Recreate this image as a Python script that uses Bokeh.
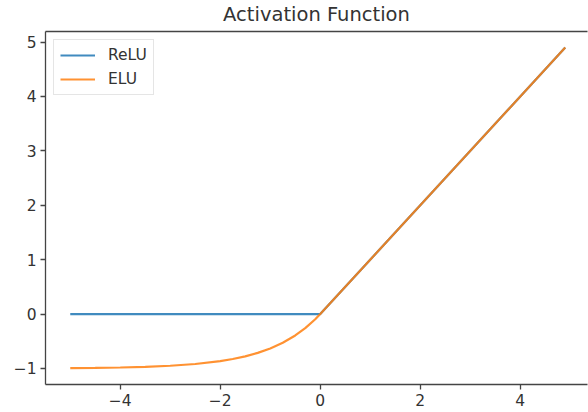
from bokeh.plotting import figure
from bokeh.models import LinearAxis, Range1d, FixedTicker, Legend, LegendItem
from bokeh.embed import file_html
from bokeh.resources import INLINE

# Data
relu_x = [-5.0, 0.0, 4.9]
relu_y = [0.0, 0.0, 4.9]

elu_x = [-5.0, -4.5, -4.0, -3.5, -3.0, -2.5, -2.0, -1.75, -1.5, -1.25, -1.0,
         -0.75, -0.5, -0.3, -0.1, 0.0, 4.9]
elu_y = [-0.993, -0.989, -0.982, -0.970, -0.950, -0.918, -0.865, -0.826,
         -0.777, -0.713, -0.632, -0.528, -0.393, -0.259, -0.095, 0.0, 4.9]

x_ticks = [-4, -2, 0, 2, 4]
x_tick_labels = ["\u22124", "\u22122", "0", "2", "4"]
y_ticks = [-1, 0, 1, 2, 3, 4, 5]
y_tick_labels = ["\u22121", "0", "1", "2", "3", "4", "5"]

TEXT = "#333333"
LINE = "#444444"
FONT = "DejaVu Sans"

p = figure(width=588, height=412, output_backend="svg", toolbar_location=None,
           x_range=Range1d(-5.495, 5.345), y_range=Range1d(-1.295, 5.195),
           min_border_left=45, min_border_right=1, min_border_top=29,
           min_border_bottom=28, x_axis_location="below")

p.title.text = "Activation Function"
p.title.align = "center"
p.title.text_font = FONT
p.title.text_font_style = "normal"
p.title.text_font_size = "19.5px"
p.title.text_color = TEXT
p.title.standoff = 0

p.grid.visible = False
p.outline_line_color = None
p.background_fill_color = "white"

r1 = p.line(relu_x, relu_y, line_color="#1f77b4", line_width=2.2, line_alpha=0.85)
r2 = p.line(elu_x, elu_y, line_color="#ff7f0e", line_width=2.2, line_alpha=0.85)

for ax, ticks, labels in ((p.xaxis[0], x_ticks, x_tick_labels),
                          (p.yaxis[0], y_ticks, y_tick_labels)):
    ax.ticker = FixedTicker(ticks=ticks)
    ax.major_label_overrides = {t: l for t, l in zip(ticks, labels)}
    ax.major_label_text_font = FONT
    ax.major_label_text_font_size = "15.5px"
    ax.major_label_text_color = TEXT
    ax.axis_line_color = LINE
    ax.axis_line_width = 1.3
    ax.major_tick_line_color = LINE
    ax.major_tick_line_width = 1.3
    ax.major_tick_out = 5
    ax.major_tick_in = 0
    ax.minor_tick_line_color = None
    ax.major_label_standoff = 4

top = LinearAxis(ticker=FixedTicker(ticks=[]), axis_line_color=LINE,
                 axis_line_width=1.3, major_tick_line_color=None,
                 minor_tick_line_color=None, major_label_text_font_size="0px",
                 major_label_standoff=0, axis_label=" ",
                 axis_label_standoff=2, axis_label_text_font_size="1px")
p.add_layout(top, "above")

legend = Legend(items=[LegendItem(label="ReLU", renderers=[r1]),
                       LegendItem(label="ELU", renderers=[r2])],
                location="top_left", margin=8, padding=6, spacing=6,
                glyph_width=35, glyph_height=16, label_height=16,
                label_standoff=13, label_text_font=FONT,
                label_text_font_size="15.5px", label_text_color=TEXT,
                border_line_color="#cccccc", border_line_width=1,
                background_fill_color="white", background_fill_alpha=0.8)
p.add_layout(legend, "center")

open("out.html", "w").write(file_html(p, INLINE))
